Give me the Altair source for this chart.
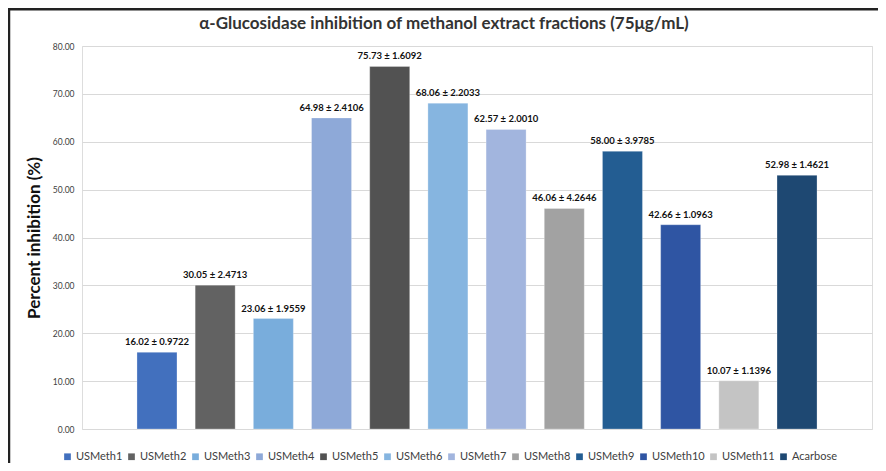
import altair as alt
import pandas as pd

samples = ["USMeth1", "USMeth2", "USMeth3", "USMeth4", "USMeth5", "USMeth6",
           "USMeth7", "USMeth8", "USMeth9", "USMeth10", "USMeth11", "Acarbose"]
means = [16.02, 30.05, 23.06, 64.98, 75.73, 68.06, 62.57, 46.06, 58.00, 42.66, 10.07, 52.98]
sds = [0.9722, 2.4713, 1.9559, 2.4106, 1.6092, 2.2033, 2.0010, 4.2646, 3.9785, 1.0963, 1.1396, 1.4621]
colors = ["#4270BE", "#626262", "#79ADDC", "#8EA9D8", "#525252", "#86B5E0",
          "#A2B5DE", "#A2A2A2", "#235D92", "#2F55A3", "#C4C4C4", "#1E4872"]
title_text = ["α-Glucosidase inhibition of methanol extract fractions (75μg/mL)"]

df = pd.DataFrame({
    "sample": samples,
    "mean": means,
    "sd": sds,
    "label": [f"{m:.2f} ± {s:.4f}" for m, s in zip(means, sds)],
})
df_title = pd.DataFrame({"t": title_text})

FONT = "Lato"
W, H = 790, 383

x = alt.X("sample:N", sort=samples, axis=None,
          scale=alt.Scale(paddingInner=0.3125, paddingOuter=0.945))
y = alt.Y("mean:Q", scale=alt.Scale(domain=[0, 80], nice=False),
          axis=alt.Axis(title="Percent inhibition (%)", values=list(range(0, 81, 10)),
                        format=".2f", labelFontSize=8.5, labelColor="#404040",
                        labelFont=FONT, labelPadding=8, ticks=False, domain=False,
                        grid=True, gridColor="#d9d9d9", gridWidth=1,
                        titleFont=FONT, titleFontSize=17, titleFontWeight="bold",
                        titleColor="#111111", titlePadding=9))

bars = alt.Chart(df).mark_bar(stroke="#ffffff", strokeOpacity=0.35, strokeWidth=0.8).encode(
    x=x, y=y,
    color=alt.Color("sample:N", sort=samples,
                    scale=alt.Scale(domain=samples, range=colors),
                    legend=alt.Legend(title=None, orient="none", direction="horizontal",
                                      legendX=-20, legendY=405, symbolType="square",
                                      symbolSize=45, symbolStrokeWidth=0,
                                      labelFont=FONT, labelFontSize=11, labelColor="#404040",
                                      columnPadding=3, labelOffset=3, columns=12)),
)

labels = alt.Chart(df).mark_text(baseline="bottom", dy=-5, font=FONT, fontSize=9.5,
                                 fontWeight="bold", color="#111111").encode(
    x=x, y=alt.Y("mean:Q"), text="label:N")

title = alt.Chart(df_title).mark_text(font=FONT, fontSize=17, fontWeight="bold",
                                      color="#333333", baseline="middle", align="center").encode(
    x=alt.value(362), y=alt.value(-22), text="t:N")

frame_top = alt.Chart(df_title).mark_rule(color="#222222", strokeWidth=3).encode(
    x=alt.value(-74), x2=alt.value(W + 6), y=alt.value(-37))
frame_left = alt.Chart(df_title).mark_rule(color="#222222", strokeWidth=2.5).encode(
    x=alt.value(-73), y=alt.value(-38), y2=alt.value(H + 34))

chart = alt.layer(bars, labels, title, frame_top, frame_left).properties(
    width=W, height=H,
    autosize=alt.AutoSizeParams(type="none"),
    padding={"left": 74, "top": 38, "right": 6, "bottom": 34},
).configure_view(fill="#efefef", stroke="#d9d9d9", strokeWidth=1
).configure(background="#ffffff")

chart.save("out.html", embed_options={"renderer": "svg", "actions": False})
